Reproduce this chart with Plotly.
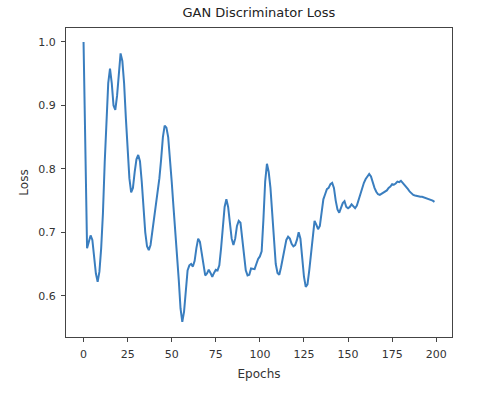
import plotly.graph_objects as go

# discriminator loss per epoch
epochs = list(range(200))
loss = [
    1.000, 0.840, 0.675, 0.685, 0.695, 0.688, 0.665, 0.635, 0.622, 0.638,
    0.675, 0.730, 0.810, 0.880, 0.935, 0.958, 0.935, 0.900, 0.893, 0.915,
    0.955, 0.982, 0.970, 0.935, 0.880, 0.830, 0.785, 0.763, 0.770, 0.795,
    0.815, 0.822, 0.812, 0.780, 0.740, 0.700, 0.678, 0.672, 0.680, 0.700,
    0.720, 0.745, 0.768, 0.785, 0.815, 0.850, 0.868, 0.865, 0.850, 0.820,
    0.780, 0.740, 0.705, 0.665, 0.625, 0.580, 0.559, 0.575, 0.615, 0.640,
    0.648, 0.650, 0.646, 0.655, 0.675, 0.690, 0.685, 0.665, 0.645, 0.632,
    0.635, 0.641, 0.636, 0.630, 0.636, 0.641, 0.640, 0.648, 0.675, 0.705,
    0.740, 0.752, 0.740, 0.715, 0.690, 0.680, 0.690, 0.710, 0.718, 0.715,
    0.690, 0.660, 0.640, 0.632, 0.633, 0.643, 0.642, 0.642, 0.650, 0.658,
    0.662, 0.670, 0.720, 0.780, 0.808, 0.795, 0.770, 0.730, 0.680, 0.650,
    0.636, 0.633, 0.645, 0.660, 0.675, 0.688, 0.693, 0.690, 0.682, 0.678,
    0.680, 0.688, 0.700, 0.690, 0.660, 0.630, 0.614, 0.618, 0.640, 0.665,
    0.700, 0.718, 0.712, 0.705, 0.710, 0.735, 0.752, 0.760, 0.768, 0.770,
    0.776, 0.778, 0.770, 0.750, 0.736, 0.731, 0.738, 0.746, 0.749, 0.740,
    0.738, 0.740, 0.744, 0.740, 0.738, 0.742, 0.752, 0.762, 0.768, 0.778,
    0.784, 0.788, 0.792, 0.788, 0.778, 0.770, 0.764, 0.760, 0.759, 0.761,
    0.763, 0.765, 0.766, 0.770, 0.772, 0.776, 0.775, 0.777, 0.780, 0.779,
    0.781, 0.778, 0.775, 0.772, 0.768, 0.764, 0.761, 0.759, 0.758, 0.757,
    0.757, 0.756, 0.756, 0.755, 0.755, 0.754, 0.753, 0.752, 0.750, 0.748,
]
x_ticks = [0, 25, 50, 75, 100, 125, 150, 175, 200]
y_ticks = [0.6, 0.7, 0.8, 0.9, 1.0]

fig = go.Figure(go.Scatter(
    x=epochs, y=loss, mode="lines",
    line=dict(color="#3a7ebf", width=2),
))

axis_style = dict(
    showline=True, mirror=True, linecolor="#444", linewidth=1,
    ticks="outside", ticklen=4, tickcolor="#444", ticklabelstandoff=3,
    showgrid=False, zeroline=False, automargin=False,
    tickfont=dict(family="DejaVu Sans", size=11, color="#333"),
)

fig.update_layout(
    width=479, height=393,
    paper_bgcolor="white", plot_bgcolor="white",
    margin=dict(l=66, r=27, t=28, b=56),
    showlegend=False,
    title=dict(text="GAN Discriminator Loss", x=0.5405, xanchor="center",
               y=0.968, yanchor="middle", automargin=False,
               font=dict(family="DejaVu Sans", size=13, color="#222")),
    font=dict(family="DejaVu Sans", color="#333"),
)
fig.update_xaxes(range=[-9.95, 208.95], tickvals=x_ticks,
                 title=dict(text="Epochs", standoff=9,
                            font=dict(family="DejaVu Sans", size=12, color="#333")),
                 **axis_style)
fig.update_yaxes(range=[0.535, 1.022], tickvals=y_ticks, tickformat=".1f",
                 title=dict(text="Loss", standoff=7,
                            font=dict(family="DejaVu Sans", size=12, color="#333")),
                 **axis_style)

# drop the browser's default body margin so the figure sits at the page origin
fig.write_html("out.html", config={"displayModeBar": False},
               post_script="document.body.style.margin='0';")
